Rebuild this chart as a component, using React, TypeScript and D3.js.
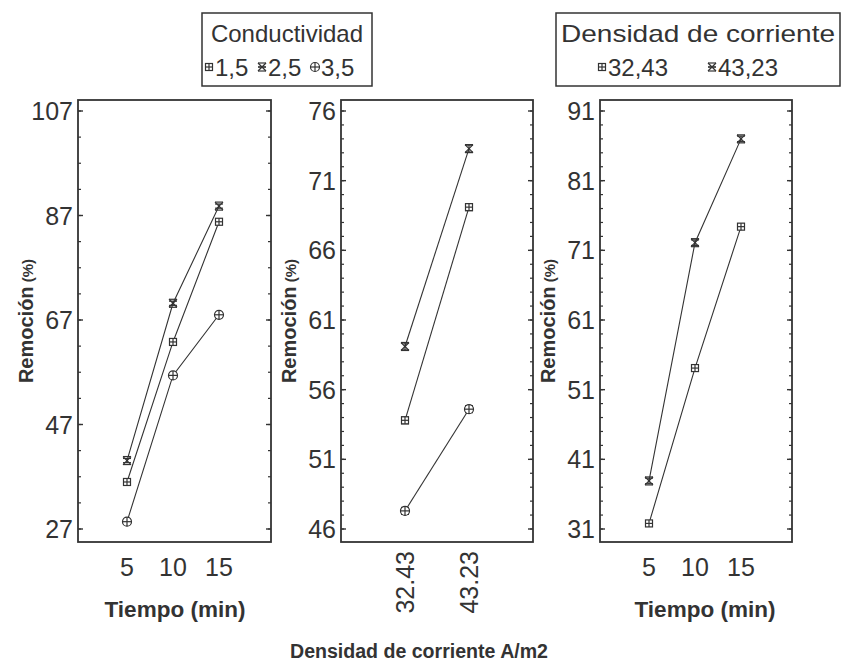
import React from "react";
import * as d3 from "d3";

// x categories
const tiempo = [5, 10, 15];
const densidades = ["32.43", "43.23"];

// legend labels
const conductividades = ["1,5", "2,5", "3,5"];
const densidadLabels = ["32,43", "43,23"];

// panel 1: Conductividad x Tiempo
const ct15 = [36, 62.8, 85.8];
const ct25 = [40.1, 70.2, 88.8];
const ct35 = [28.4, 56.4, 68];
const ctErr = [0.4, 0.4, 0.4];

// panel 2: Conductividad x Densidad
const cd15 = [53.8, 69.1];
const cd25 = [59.1, 73.3];
const cd35 = [47.3, 54.6];
const cdErr = [0.25, 0.25];

// panel 3: Densidad x Tiempo
const dt3243 = [31.8, 54.1, 74.4];
const dt4323 = [37.9, 72.1, 87];
const dtErr = [0.4, 0.4, 0.4];

// y ticks
const yTicks1 = [27, 47, 67, 87, 107];
const yTicks2 = [46, 51, 56, 61, 66, 71, 76];
const yTicks3 = [31, 41, 51, 61, 71, 81, 91];

const INK = "#333";
const FONT = "'Liberation Sans', Arial, sans-serif";
const TOP = 100;
const BOTTOM = 542;

type Kind = "square" | "cross" | "circle";

const Marker = ({ kind, x, y, y0, y1 }: { kind: Kind; x: number; y: number; y0: number; y1: number }) => {
  const cap = 4;
  return (
    <g stroke={INK} strokeWidth={1.2} fill="#fff">
      <line x1={x} x2={x} y1={y0} y2={y1} />
      <line x1={x - cap} x2={x + cap} y1={y0} y2={y0} />
      <line x1={x - cap} x2={x + cap} y1={y1} y2={y1} />
      {kind === "square" && (
        <>
          <rect x={x - 3.5} y={y - 3.5} width={7} height={7} />
          <line x1={x - 3.5} x2={x + 3.5} y1={y} y2={y} />
          <line x1={x} x2={x} y1={y - 3.5} y2={y + 3.5} />
        </>
      )}
      {kind === "cross" && (
        <>
          <line x1={x - 4} x2={x + 4} y1={y - 4} y2={y + 4} />
          <line x1={x - 4} x2={x + 4} y1={y + 4} y2={y - 4} />
          <line x1={x - 4} x2={x + 4} y1={y - 4} y2={y - 4} />
          <line x1={x - 4} x2={x + 4} y1={y + 4} y2={y + 4} />
        </>
      )}
      {kind === "circle" && (
        <>
          <circle cx={x} cy={y} r={4.5} />
          <line x1={x - 4.5} x2={x + 4.5} y1={y} y2={y} />
          <line x1={x} x2={x} y1={y - 4.5} y2={y + 4.5} />
        </>
      )}
    </g>
  );
};

type Series = { kind: Kind; values: number[]; err: number[] };

type PanelProps = {
  left: number;
  right: number;
  yDomain: [number, number];
  yTicks: number[];
  minorStep: number;
  xs: number[];
  series: Series[];
  xLabels: React.ReactNode;
};

const Panel = ({ left, right, yDomain, yTicks, minorStep, xs, series, xLabels }: PanelProps) => {
  const y = d3.scaleLinear().domain(yDomain).range([529, 111]);
  const minor = d3.range(yDomain[0], yDomain[1] + 0.001, minorStep);
  const line = d3
    .line<[number, number]>()
    .x((d) => d[0])
    .y((d) => y(d[1]));
  return (
    <g>
      {series.map((s, i) => (
        <path
          key={i}
          d={line(s.values.map((v, j) => [xs[j], v] as [number, number])) || ""}
          fill="none"
          stroke={INK}
          strokeWidth={1.1}
        />
      ))}
      {series.map((s, i) =>
        s.values.map((v, j) => (
          <Marker key={`${i}-${j}`} kind={s.kind} x={xs[j]} y={y(v)} y0={y(v + s.err[j])} y1={y(v - s.err[j])} />
        ))
      )}
      {minor.map((t) => (
        <g key={`m${t}`} stroke={INK} strokeWidth={1.2}>
          <line x1={left} x2={left + 3} y1={y(t)} y2={y(t)} />
          <line x1={right} x2={right - 3} y1={y(t)} y2={y(t)} />
        </g>
      ))}
      {yTicks.map((t) => (
        <g key={t}>
          <line x1={left} x2={left + 5} y1={y(t)} y2={y(t)} stroke={INK} strokeWidth={1.4} />
          <line x1={right} x2={right - 5} y1={y(t)} y2={y(t)} stroke={INK} strokeWidth={1.4} />
          <text x={left - 5} y={y(t)} dy="0.36em" textAnchor="end" fontSize={25} fill={INK} fontFamily={FONT}>
            {t}
          </text>
        </g>
      ))}
      <rect x={left} y={TOP} width={right - left} height={BOTTOM - TOP} fill="none" stroke={INK} strokeWidth={1.8} />
      <text
        transform={`translate(${left - 51},${(TOP + BOTTOM) / 2}) rotate(-90)`}
        textAnchor="middle"
        dy="0.35em"
        fontFamily={FONT}
        fontWeight="bold"
        fill={INK}
      >
        <tspan fontSize={20}>Remoción</tspan>
        <tspan fontSize={15}> (%)</tspan>
      </text>
      {xLabels}
    </g>
  );
};

const App = () => {
  const p1 = { left: 78, right: 271 };
  const p2 = { left: 341, right: 533 };
  const p3 = { left: 600, right: 792 };

  const xTime1 = d3.scaleLinear().domain([5, 15]).range([p1.left + 49, p1.left + 141]);
  const xTime3 = d3.scaleLinear().domain([5, 15]).range([p3.left + 49, p3.left + 141]);
  const xDens = d3.scalePoint<string>().domain(densidades).range([p2.left, p2.right]).padding(1);

  const timeLabels = (x: d3.ScaleLinear<number, number>, center: number) => (
    <g fontFamily={FONT} fill={INK}>
      {tiempo.map((t) => (
        <text key={t} x={x(t)} y={567} dy="0.36em" textAnchor="middle" fontSize={25}>
          {t}
        </text>
      ))}
      <text
        x={center}
        y={609}
        dy="0.36em"
        textAnchor="middle"
        fontSize={22}
        fontWeight="bold"
        textLength={141}
        lengthAdjust="spacingAndGlyphs"
      >
        Tiempo (min)
      </text>
    </g>
  );

  const densLabels = (
    <g fontFamily={FONT} fill={INK}>
      {densidades.map((d) => (
        <text
          key={d}
          transform={`translate(${xDens(d)},${551}) rotate(-90)`}
          textAnchor="end"
          dy="0.36em"
          fontSize={25}
        >
          {d}
        </text>
      ))}
    </g>
  );

  const legendKinds: Kind[] = ["square", "cross", "circle"];
  const leg1X = [209, 262, 315];
  const leg2X = [602, 712];

  return (
    <svg
      width={842}
      height={665}
      style={{ position: "absolute", left: 0, top: 0, background: "#fff" }}
      fontFamily={FONT}
    >
      <rect width={842} height={665} fill="#fff" />

      {/* legend: Conductividad */}
      <rect x={202} y={13} width={170} height={73} fill="none" stroke={INK} strokeWidth={1.5} />
      <text x={287} y={33} dy="0.36em" textAnchor="middle" fontSize={24} fill={INK}>
        Conductividad
      </text>
      {conductividades.map((c, i) => (
        <g key={c}>
          <Marker kind={legendKinds[i]} x={leg1X[i]} y={67} y0={67} y1={67} />
          <text x={leg1X[i] + 6} y={67} dy="0.36em" fontSize={24} fill={INK}>
            {c}
          </text>
        </g>
      ))}

      {/* legend: Densidad de corriente */}
      <rect x={556} y={13} width={284} height={73} fill="none" stroke={INK} strokeWidth={1.5} />
      <text x={698} y={33} dy="0.36em" textAnchor="middle" fontSize={24} fill={INK} textLength={274} lengthAdjust="spacingAndGlyphs">
        Densidad de corriente
      </text>
      {densidadLabels.map((c, i) => (
        <g key={c}>
          <Marker kind={legendKinds[i]} x={leg2X[i]} y={67} y0={67} y1={67} />
          <text x={leg2X[i] + 6} y={67} dy="0.36em" fontSize={24} fill={INK}>
            {c}
          </text>
        </g>
      ))}

      <Panel
        {...p1}
        yDomain={[27, 107]}
        yTicks={yTicks1}
        minorStep={5}
        xs={tiempo.map((t) => xTime1(t))}
        series={[
          { kind: "square", values: ct15, err: ctErr },
          { kind: "cross", values: ct25, err: ctErr },
          { kind: "circle", values: ct35, err: ctErr },
        ]}
        xLabels={timeLabels(xTime1, 175)}
      />
      <Panel
        {...p2}
        yDomain={[46, 76]}
        yTicks={yTicks2}
        minorStep={1}
        xs={densidades.map((d) => xDens(d) as number)}
        series={[
          { kind: "square", values: cd15, err: cdErr },
          { kind: "cross", values: cd25, err: cdErr },
          { kind: "circle", values: cd35, err: cdErr },
        ]}
        xLabels={densLabels}
      />
      <Panel
        {...p3}
        yDomain={[31, 91]}
        yTicks={yTicks3}
        minorStep={2}
        xs={tiempo.map((t) => xTime3(t))}
        series={[
          { kind: "square", values: dt3243, err: dtErr },
          { kind: "cross", values: dt4323, err: dtErr },
        ]}
        xLabels={timeLabels(xTime3, 705)}
      />

      <text
        x={419}
        y={651}
        dy="0.36em"
        textAnchor="middle"
        fontSize={20}
        fontWeight="bold"
        fill={INK}
        textLength={258}
        lengthAdjust="spacingAndGlyphs"
      >
        Densidad de corriente A/m2
      </text>
    </svg>
  );
};

export default App;
